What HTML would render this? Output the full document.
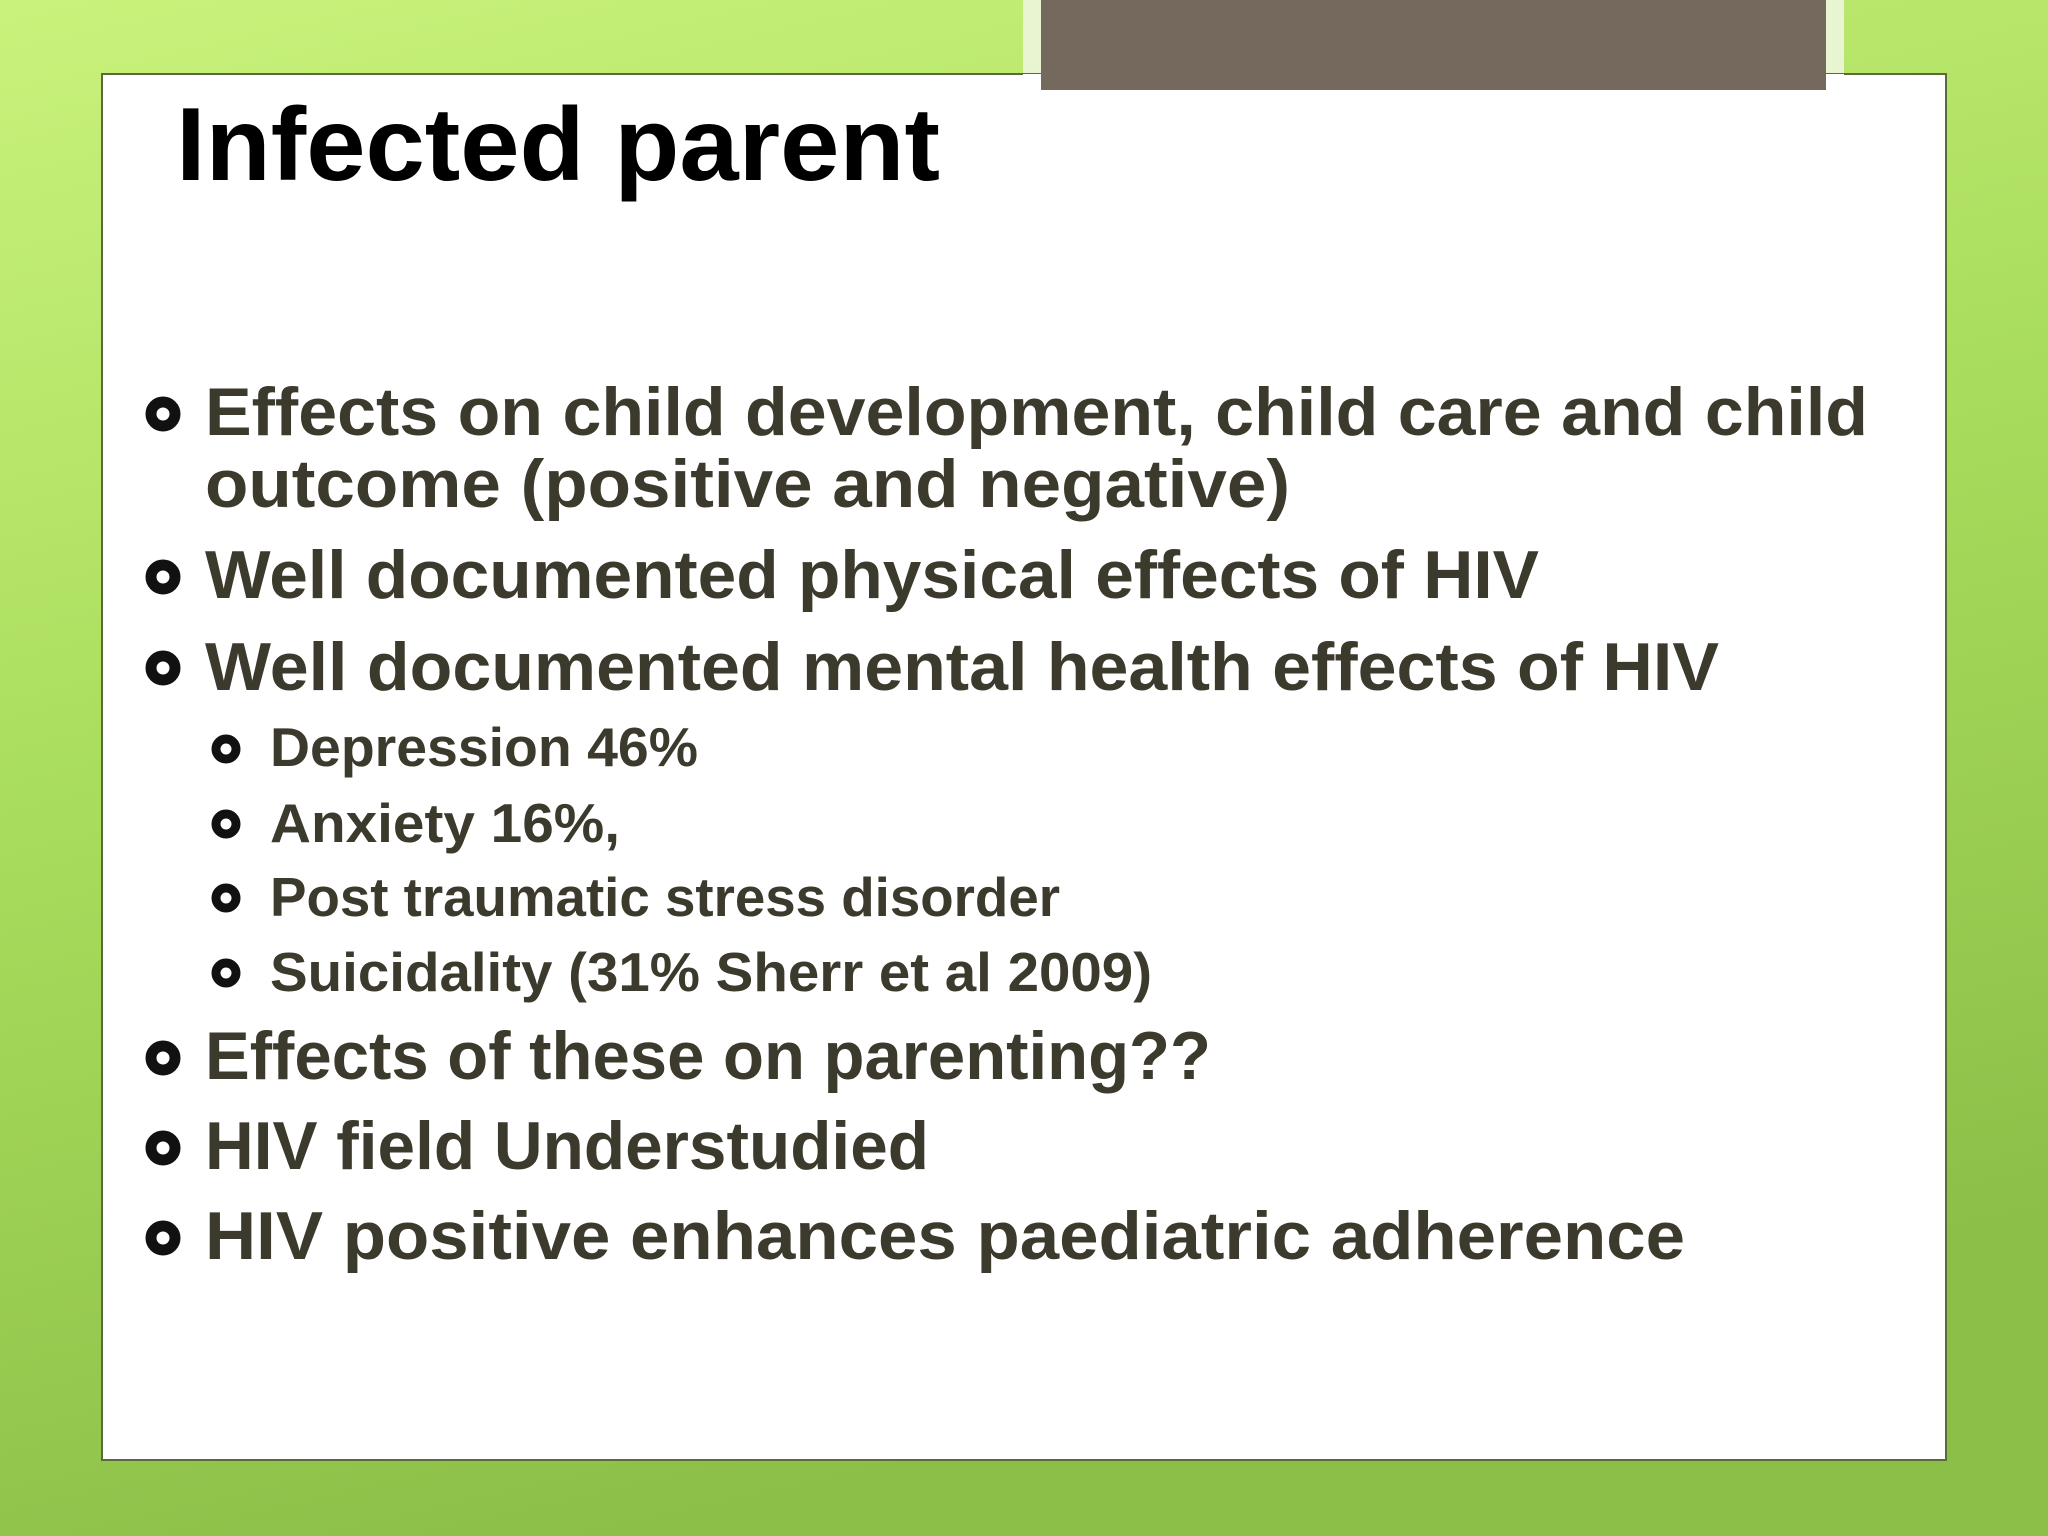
<!DOCTYPE html>
<html><head><meta charset="utf-8"><style>
html,body{margin:0;padding:0;width:2048px;height:1536px;overflow:hidden}
svg{display:block}
</style></head><body>
<svg width="2048" height="1536" viewBox="0 0 2048 1536" font-family="'Liberation Sans', sans-serif" font-weight="bold">
<defs>
<linearGradient id="bg" x1="0" y1="0" x2="0.3" y2="1">
<stop offset="0" stop-color="#c9f27c"/><stop offset="0.5" stop-color="#a8dc5c"/><stop offset="1" stop-color="#8cbf48"/>
</linearGradient>
</defs>
<rect x="0" y="0" width="2048" height="1536" fill="url(#bg)"/>
<rect x="1023" y="0" width="821" height="92" fill="#e8f5d0"/>
<rect x="102" y="74" width="1844" height="1386" fill="#ffffff" stroke="#5a6a3a" stroke-width="2"/>
<rect x="1023" y="74" width="821" height="18" fill="#ffffff"/>
<rect x="1041" y="0" width="785" height="90" fill="#75685c"/>
<text x="176" y="180" font-size="104" fill="#000" textLength="764" lengthAdjust="spacingAndGlyphs">Infected parent</text>
<g fill="#3b3a2c">
<g fill="none" stroke="#111" stroke-width="11">
<circle cx="163" cy="414" r="12"/><circle cx="163" cy="577" r="12"/><circle cx="163" cy="668" r="12"/>
<circle cx="163" cy="1058" r="12"/><circle cx="163" cy="1148" r="12"/><circle cx="163" cy="1238" r="12"/>
<circle cx="226" cy="749" r="10" stroke-width="9"/><circle cx="226" cy="824" r="10" stroke-width="9"/><circle cx="226" cy="898" r="10" stroke-width="9"/><circle cx="226" cy="973" r="10" stroke-width="9"/>
</g>
<g font-size="68">
<text x="205" y="435" textLength="1663" lengthAdjust="spacingAndGlyphs">Effects on child development, child care and child</text>
<text x="205" y="507" textLength="1085" lengthAdjust="spacingAndGlyphs">outcome (positive and negative)</text>
<text x="205" y="598" textLength="1334" lengthAdjust="spacingAndGlyphs">Well documented physical effects of HIV</text>
<text x="205" y="690" textLength="1514" lengthAdjust="spacingAndGlyphs">Well documented mental health effects of HIV</text>
<text x="205" y="1079" textLength="1006" lengthAdjust="spacingAndGlyphs">Effects of these on parenting??</text>
<text x="205" y="1169" textLength="724" lengthAdjust="spacingAndGlyphs">HIV field Understudied</text>
<text x="205" y="1259" textLength="1480" lengthAdjust="spacingAndGlyphs">HIV positive enhances paediatric adherence</text>
</g>
<g font-size="55">
<text x="270" y="766" textLength="428" lengthAdjust="spacingAndGlyphs">Depression 46%</text>
<text x="270" y="842" textLength="350" lengthAdjust="spacingAndGlyphs">Anxiety 16%,</text>
<text x="270" y="916" textLength="790" lengthAdjust="spacingAndGlyphs">Post traumatic stress disorder</text>
<text x="270" y="991" textLength="882" lengthAdjust="spacingAndGlyphs">Suicidality (31% Sherr et al 2009)</text>
</g>
</g>
</svg>
</body></html>
